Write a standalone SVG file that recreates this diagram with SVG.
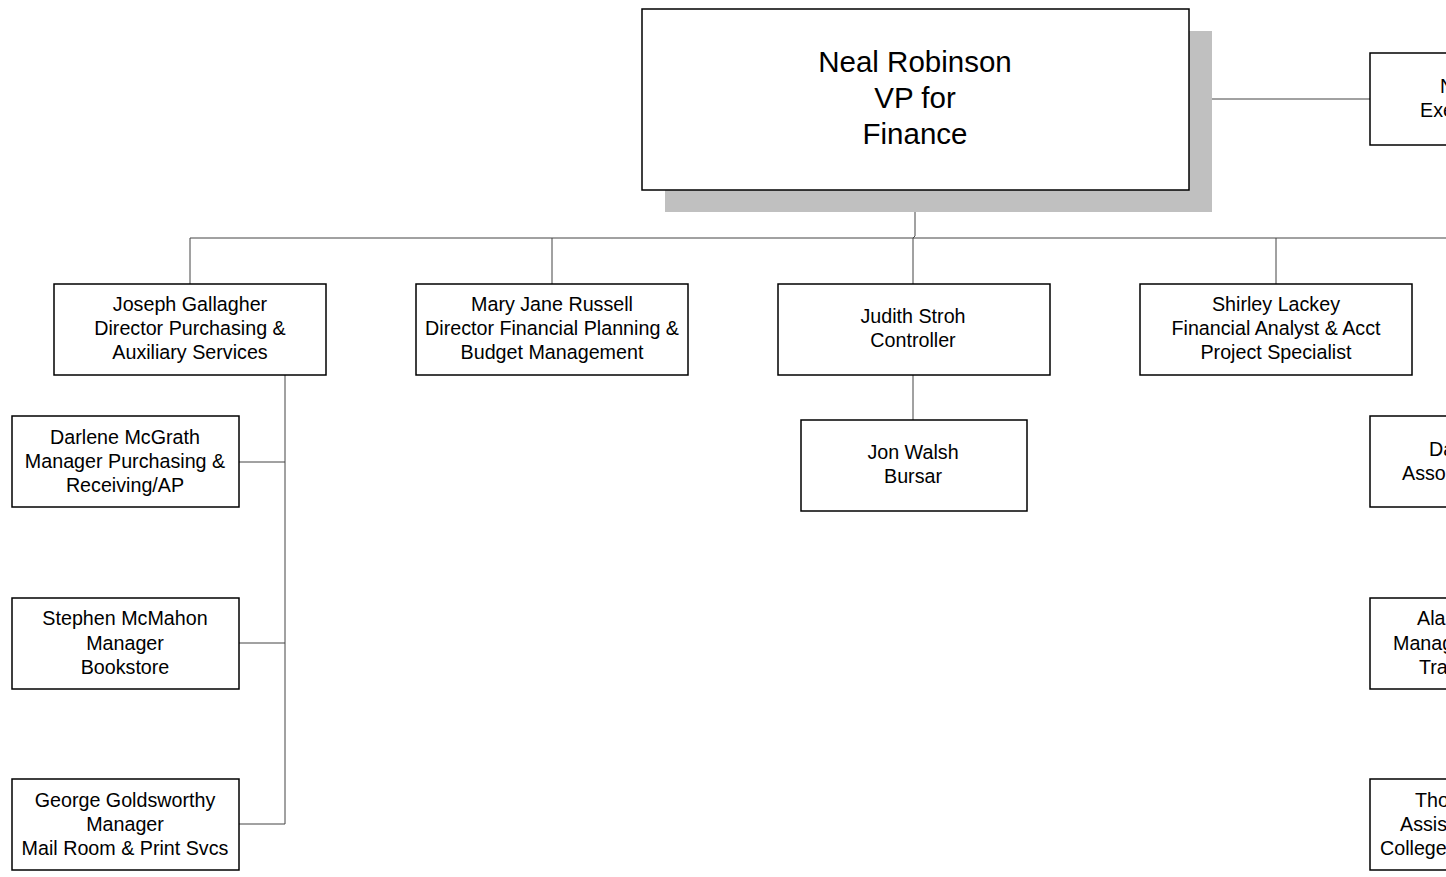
<svg xmlns="http://www.w3.org/2000/svg" width="1446" height="877" viewBox="0 0 1446 877">
<style>
.box{fill:#fff;stroke:#000;stroke-width:1.5}
.t{font-family:"Liberation Sans",Arial,sans-serif;font-size:19.7px;fill:#000;text-anchor:middle}
.ts{font-family:"Liberation Sans",Arial,sans-serif;font-size:19.7px;fill:#000}
.big{font-family:"Liberation Sans",Arial,sans-serif;font-size:29.5px;fill:#000;text-anchor:middle}
.c{fill:none;stroke:#444;stroke-width:1}
</style>
<rect width="1446" height="877" fill="#fff"/>
<g id="connectors">
<polyline class="c" points="915,190 915,236 913,238"/>
<line class="c" x1="190" y1="238" x2="1446" y2="238"/>
<line class="c" x1="190" y1="238" x2="190" y2="284"/>
<line class="c" x1="552" y1="238" x2="552" y2="284"/>
<line class="c" x1="913" y1="238" x2="913" y2="284"/>
<line class="c" x1="1276" y1="238" x2="1276" y2="284"/>
<line class="c" x1="1189" y1="99" x2="1370" y2="99"/>
<line class="c" x1="913" y1="375" x2="913" y2="420"/>
<line class="c" x1="285" y1="371" x2="285" y2="824"/>
<line class="c" x1="239" y1="462" x2="285" y2="462"/>
<line class="c" x1="239" y1="643" x2="285" y2="643"/>
<line class="c" x1="239" y1="824" x2="285" y2="824"/>
</g>
<g id="vp">
<rect x="665" y="31" width="547" height="181" fill="#c0c0c0"/>
<rect class="box" x="642" y="9" width="547" height="181"/>
<text class="big" x="915" y="72">Neal Robinson</text>
<text class="big" x="915" y="108">VP for</text>
<text class="big" x="915" y="144">Finance</text>
</g>
<g id="gallagher">
<rect class="box" x="54" y="284" width="272" height="91"/>
<text class="t" x="190" y="311">Joseph Gallagher</text>
<text class="t" x="190" y="335">Director Purchasing &amp;</text>
<text class="t" x="190" y="359">Auxiliary Services</text>
</g>
<g id="russell">
<rect class="box" x="416" y="284" width="272" height="91"/>
<text class="t" x="552" y="311">Mary Jane Russell</text>
<text class="t" x="552" y="335">Director Financial Planning &amp;</text>
<text class="t" x="552" y="359">Budget Management</text>
</g>
<g id="stroh">
<rect class="box" x="778" y="284" width="272" height="91"/>
<text class="t" x="913" y="323">Judith Stroh</text>
<text class="t" x="913" y="347">Controller</text>
</g>
<g id="lackey">
<rect class="box" x="1140" y="284" width="272" height="91"/>
<text class="t" x="1276" y="311">Shirley Lackey</text>
<text class="t" x="1276" y="335">Financial Analyst &amp; Acct</text>
<text class="t" x="1276" y="359">Project Specialist</text>
</g>
<g id="walsh">
<rect class="box" x="801" y="420" width="226" height="91"/>
<text class="t" x="913" y="459">Jon Walsh</text>
<text class="t" x="913" y="483">Bursar</text>
</g>
<g id="mcgrath">
<rect class="box" x="12" y="416" width="227" height="91"/>
<text class="t" x="125" y="444">Darlene McGrath</text>
<text class="t" x="125" y="468">Manager Purchasing &amp;</text>
<text class="t" x="125" y="492">Receiving/AP</text>
</g>
<g id="mcmahon">
<rect class="box" x="12" y="598" width="227" height="91"/>
<text class="t" x="125" y="625">Stephen McMahon</text>
<text class="t" x="125" y="650">Manager</text>
<text class="t" x="125" y="674">Bookstore</text>
</g>
<g id="goldsworthy">
<rect class="box" x="12" y="779" width="227" height="91"/>
<text class="t" x="125" y="807">George Goldsworthy</text>
<text class="t" x="125" y="831">Manager</text>
<text class="t" x="125" y="855">Mail Room &amp; Print Svcs</text>
</g>
<g id="right-top">
<rect class="box" x="1370" y="53" width="300" height="92"/>
<text class="ts" x="1440" y="93">N</text>
<text class="ts" x="1420" y="117">Exe</text>
</g>
<g id="right-2">
<rect class="box" x="1370" y="416" width="300" height="91"/>
<text class="ts" x="1429" y="456">Da</text>
<text class="ts" x="1402" y="480">Asso</text>
</g>
<g id="right-3">
<rect class="box" x="1370" y="598" width="300" height="91"/>
<text class="ts" x="1417" y="625">Ala</text>
<text class="ts" x="1393" y="650">Manag</text>
<text class="ts" x="1419" y="674">Tra</text>
</g>
<g id="right-4">
<rect class="box" x="1370" y="779" width="300" height="91"/>
<text class="ts" x="1415" y="807">Tho</text>
<text class="ts" x="1400" y="831">Assis</text>
<text class="ts" x="1380" y="855">College</text>
</g>
</svg>
